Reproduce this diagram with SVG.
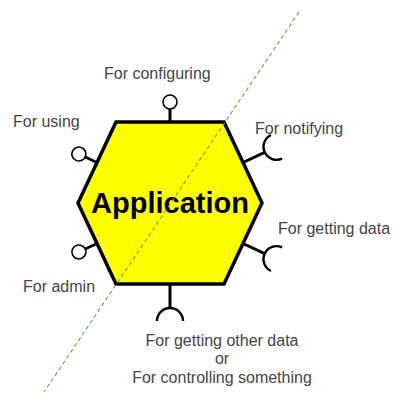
<svg xmlns="http://www.w3.org/2000/svg" xmlns:xlink="http://www.w3.org/1999/xlink" width="400" height="402" viewBox="0 0 400 402">
<style>
.lbl{font-family:"Liberation Sans",Arial,sans-serif;font-size:16px;fill:#444}
.stem{stroke:#000;stroke-width:3;fill:none}
.ball{stroke:#000;stroke-width:1.6;fill:#fff}
.sock{stroke:#000;stroke-width:2.4;fill:none}
</style>
<defs>
<g id="lollipop"><line class="stem" x1="0" y1="0" x2="0" y2="13"/><circle class="ball" cx="0" cy="20" r="7"/></g>
<g id="socket"><line class="stem" x1="0" y1="0" x2="0" y2="24"/><path class="sock" d="M-13,37 A13,13 0 0 1 13,37"/></g>
</defs>
<rect width="400" height="402" fill="#fff"/>
<g id="app">
<polygon points="116,122 224,122 262,203 224,284 116,284 78,203" fill="#ffff00" stroke="#000" stroke-width="3.5" stroke-linejoin="miter"/>
<text x="170" y="213" text-anchor="middle" font-family="Liberation Sans,Arial,sans-serif" font-weight="bold" font-size="29" fill="#000">Application</text>
</g>
<g id="boundary">
<line x1="299" y1="12" x2="44" y2="392" stroke="#6a9f4a" stroke-width="1.1" stroke-dasharray="4,3"/>
</g>
<g id="configuring"><use xlink:href="#lollipop" transform="translate(170,122) rotate(180)"/><text class="lbl" x="104" y="79">For configuring</text></g>
<g id="using"><use xlink:href="#lollipop" transform="translate(97,162.5) rotate(115.1)"/><text class="lbl" x="13" y="127">For using</text></g>
<g id="admin"><use xlink:href="#lollipop" transform="translate(97,243.5) rotate(64.9)"/><text class="lbl" x="23" y="292">For admin</text></g>
<g id="notifying"><use xlink:href="#socket" transform="translate(243,162.5) rotate(-115.1)"/><text class="lbl" x="255" y="134">For notifying</text></g>
<g id="gettingdata"><use xlink:href="#socket" transform="translate(243,243.5) rotate(-64.9)"/><text class="lbl" x="278" y="234">For getting data</text></g>
<g id="otherdata"><use xlink:href="#socket" transform="translate(170,284)"/>
<text class="lbl" x="222" y="346" text-anchor="middle">For getting other data</text>
<text class="lbl" x="222" y="364" text-anchor="middle">or</text>
<text class="lbl" x="222" y="383" text-anchor="middle">For controlling something</text></g>
</svg>
